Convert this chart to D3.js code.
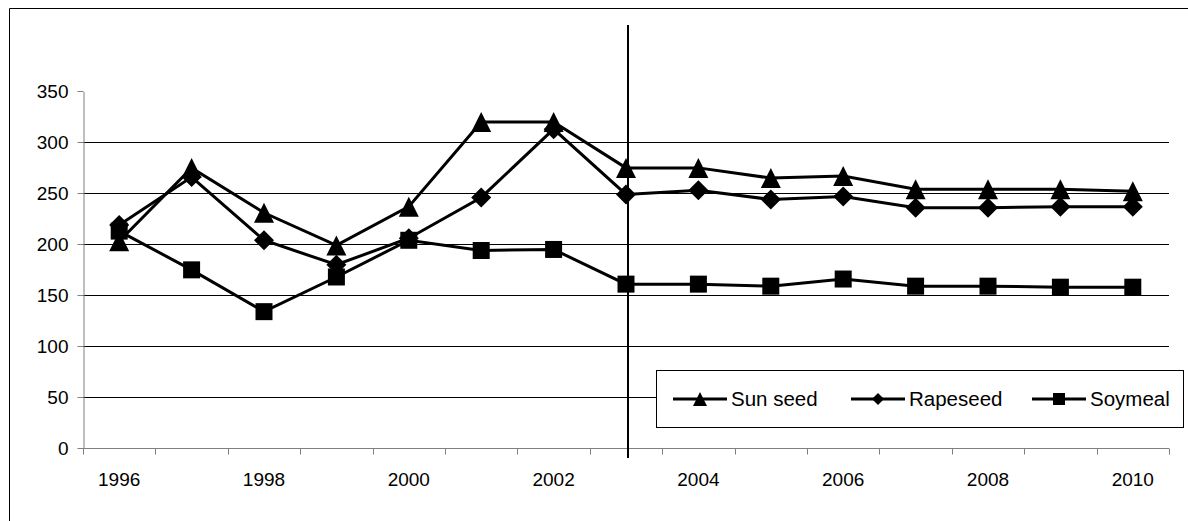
<!DOCTYPE html>
<html><head><meta charset="utf-8">
<script src="https://cdn.jsdelivr.net/npm/d3@7"></script>
<style>body{margin:0;background:#fff}svg{display:block}text{font-family:"Liberation Sans",Arial,sans-serif;fill:#000}</style>
</head><body>
<script>
const years = ["1996","1997","1998","1999","2000","2001","2002","2003","2004","2005","2006","2007","2008","2009","2010"];
const xLabels = ["1996","1998","2000","2002","2004","2006","2008","2010"];
const yTicks = [0,50,100,150,200,250,300,350];
const sunSeed  = [203,275,231,199,237,320,320,275,275,265,267,254,254,254,252];
const rapeseed = [219,266,204,180,206,246,313,249,253,244,247,236,236,237,237];
const soymeal  = [213,175,134,168,204,194,195,161,161,159,166,159,159,158,158];
const seriesNames = ["Sun seed","Rapeseed","Soymeal"];
const markerLine = "2003";

const W=1188,H=521;
const svg=d3.select("body").append("svg").attr("width",W).attr("height",H);

// outer frame
svg.append("path").attr("d","M9.5,"+H+"V8.5H"+W).attr("fill","none").attr("stroke","#000").attr("stroke-width",1);

const x=d3.scaleBand().domain(years).range([83,1169]);
const y=d3.scaleLinear().domain([0,350]).range([448.3,91.4]);
const cx=d=>x(d)+x.bandwidth()/2;

// gridlines
svg.append("g").selectAll("line").data(yTicks.filter(v=>v>0&&v<350)).join("line")
  .attr("x1",83).attr("x2",1169).attr("y1",d=>Math.round(y(d))+0.5).attr("y2",d=>Math.round(y(d))+0.5)
  .attr("stroke","#000").attr("stroke-width",1);

// y axis
const yAxis=svg.append("g").attr("transform","translate(83.5,0)")
  .call(d3.axisLeft(y).tickValues(yTicks).tickSize(6).tickPadding(9).tickSizeOuter(0));
yAxis.select(".domain").attr("stroke","#808080");
yAxis.selectAll(".tick line").attr("stroke","#808080");
yAxis.selectAll(".tick text").style("font-size","19px").attr("font-family",null);
yAxis.selectAll(".tick").attr("transform",d=>"translate(0,"+(Math.round(y(d))+0.5)+")");

// x axis
const xAxisG=svg.append("g").attr("transform","translate(0,448.5)");
xAxisG.append("line").attr("x1",83).attr("x2",1169).attr("stroke","#808080");
const bounds=years.map(d=>x(d)).concat([x.range()[1]]);
xAxisG.selectAll("line.t").data(bounds).join("line").attr("class","t")
  .attr("x1",d=>Math.round(d)+0.5).attr("x2",d=>Math.round(d)+0.5).attr("y1",0).attr("y2",6).attr("stroke","#808080");
xAxisG.selectAll("text").data(xLabels).join("text")
  .attr("x",d=>cx(d)).attr("y",37).attr("text-anchor","middle").style("font-size","19px").text(d=>d);

// vertical marker line
svg.append("line").attr("x1",cx(markerLine)+2).attr("x2",cx(markerLine)+2).attr("y1",25).attr("y2",458)
  .attr("stroke","#000").attr("stroke-width",2);

const shapes={
  tri:s=>`M0,${-s/2}L${s/2},${s/2}L${-s/2},${s/2}Z`,
  dia:s=>`M0,${-s/2}L${s/2},0L0,${s/2}L${-s/2},0Z`,
  sq:s=>`M${-s/2},${-s/2}H${s/2}V${s/2}H${-s/2}Z`
};
const series=[
  {name:seriesNames[0],vals:sunSeed,shape:"tri",size:20,lsize:14},
  {name:seriesNames[1],vals:rapeseed,shape:"dia",size:20,lsize:12},
  {name:seriesNames[2],vals:soymeal,shape:"sq",size:17,lsize:12}
];
const line=d3.line().x((d,i)=>cx(years[i])).y(d=>y(d));
series.forEach(s=>{
  const g=svg.append("g");
  g.append("path").attr("d",line(s.vals)).attr("fill","none").attr("stroke","#000").attr("stroke-width",3).attr("stroke-linejoin","miter");
  g.selectAll("path.m").data(s.vals).join("path").attr("class","m")
    .attr("transform",(d,i)=>`translate(${cx(years[i])},${y(d)})`).attr("d",shapes[s.shape](s.size)).attr("fill","#000");
});

// legend
const lg=svg.append("g");
lg.append("rect").attr("x",656.5).attr("y",370.5).attr("width",527).attr("height",57).attr("fill","#fff").attr("stroke","#000").attr("stroke-width",1);
const lx=[673,851,1032];
series.forEach((s,i)=>{
  const g=lg.append("g").attr("transform",`translate(${lx[i]},399)`);
  g.append("line").attr("x1",0).attr("x2",54).attr("stroke","#000").attr("stroke-width",3);
  g.append("path").attr("transform","translate(27,0)").attr("d",shapes[s.shape](s.lsize)).attr("fill","#000");
  g.append("text").attr("x",58).attr("y",7).style("font-size","20.5px").text(s.name);
});
</script>
</body></html>
